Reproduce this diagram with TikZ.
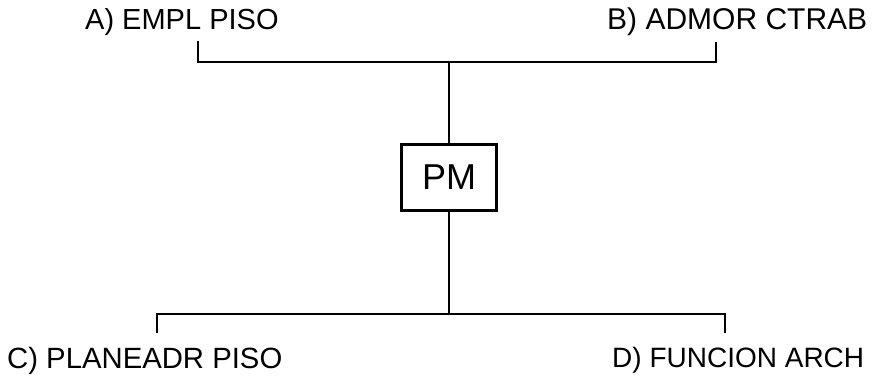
\documentclass[tikz,border=0pt]{standalone}
\usepackage{fontspec}
\setmainfont{Liberation Sans}
\begin{document}
\begin{tikzpicture}[x=1pt,y=-1pt,
  lbl/.style={inner sep=0pt, anchor=base west, font=\fontsize{29}{32}\selectfont},
  wire/.style={line width=2.8pt, line cap=butt, line join=miter},
  pmbox/.style={draw, line width=2.8pt, minimum width=95pt, minimum height=66pt, inner sep=0pt, font=\fontsize{36}{40}\selectfont}]
\useasboundingbox (0,0) rectangle (879,377);
% labels
\node[lbl] (a) at (85,30) {A) EMPL PISO};
\node[lbl, font=\fontsize{30}{33}\selectfont] (b) at (607,30) {B) ADMOR CTRAB};
\node[lbl, font=\fontsize{29.3}{32}\selectfont] (c) at (7,368) {C) PLANEADR PISO};
\node[lbl, font=\fontsize{28}{31}\selectfont] (d) at (612,367) {D) FUNCION ARCH};
% central box
\node[pmbox] (pm) at (449,177.5) {PM};
% top bracket
\coordinate (ta) at (198,41);
\coordinate (tl) at (198,62);
\coordinate (tr) at (716,62);
\coordinate (tb) at (716,42);
\draw[wire] (ta) -- (tl) -- (tr) -- (tb);
% bottom bracket
\coordinate (bc) at (157,333);
\coordinate (bl) at (157,314);
\coordinate (br) at (725,314);
\coordinate (bd) at (725,333);
\draw[wire] (bc) -- (bl) -- (br) -- (bd);
% stems
\draw[wire] (pm.north) -- (pm.north |- tl);
\draw[wire] (pm.south) -- (pm.south |- bl);
\end{tikzpicture}
\end{document}
